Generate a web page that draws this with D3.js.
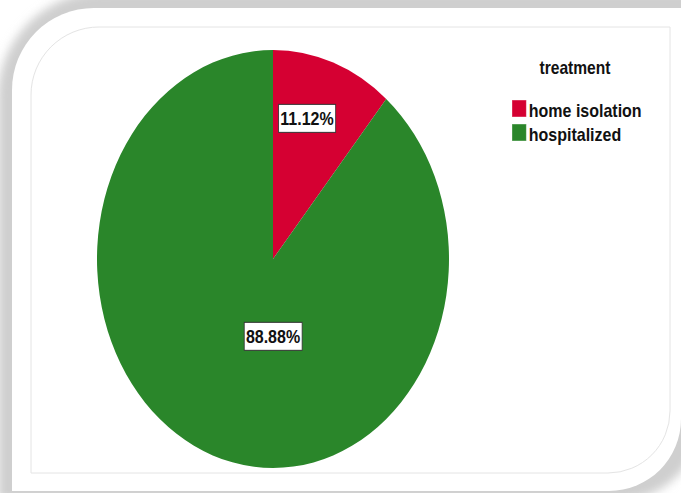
<!DOCTYPE html>
<html>
<head>
<meta charset="utf-8">
<script src="https://cdn.jsdelivr.net/npm/d3@7"></script>
<style>
  body { margin: 0; background: #fff; }
  svg { display: block; font-family: "Liberation Sans", Arial, sans-serif; }
</style>
</head>
<body>
<div id="chart"></div>
<script>
const categories = ["home isolation", "hospitalized"];
const percents = [11.12, 88.88];
const colors = ["#d50032", "#2a862a"];
const legendTitle = "treatment";

const width = 681, height = 493;
const cx = 273, cy = 259, rx = 176, ry = 209;
const squeeze = rx / ry;

const svg = d3.select("#chart")
  .append("svg")
    .attr("width", width)
    .attr("height", height);

const defs = svg.append("defs");
defs.append("filter")
    .attr("id", "blur")
    .attr("x", "-20%").attr("y", "-20%")
    .attr("width", "140%").attr("height", "140%")
  .append("feGaussianBlur")
    .attr("stdDeviation", 5);

// card with two rounded corners (top-left, bottom-right)
function card(x0, y0, x1, y1, r1, r2) {
  const p = d3.path();
  p.moveTo(x0 + r1, y0);
  p.lineTo(x1, y0);
  p.lineTo(x1, y1 - r2);
  p.arcTo(x1, y1, x1 - r2, y1, r2);
  p.lineTo(x0, y1);
  p.lineTo(x0, y0 + r1);
  p.arcTo(x0, y0, x0 + r1, y0, r1);
  p.closePath();
  return p.toString();
}

svg.append("path")
    .attr("d", card(-2, -8, 700, 500, 105, 80))
    .attr("fill", "#cfcfcf")
    .attr("filter", "url(#blur)");

svg.append("path")
    .attr("d", card(12, 8, 681, 491, 82, 72))
    .attr("fill", "#fff");

svg.append("path")
    .attr("d", card(31, 27, 670, 473, 68, 62))
    .attr("fill", "none")
    .attr("stroke", "#e4e4e4")
    .attr("stroke-width", 1);

// pie (drawn as a circle, then squeezed horizontally)
const pie = d3.pie().sort(null).value(d => d);
const arcs = pie(percents);
const arc = d3.arc().innerRadius(0).outerRadius(ry);

svg.append("g")
    .attr("transform", `translate(${cx},${cy}) scale(${squeeze},1)`)
  .selectAll("path")
  .data(arcs)
  .join("path")
    .attr("d", arc)
    .attr("fill", (d, i) => colors[i]);

// value labels
const labelSpots = [[16, 0.70], [180, 0.37]];
const labels = svg.append("g")
  .selectAll("g")
  .data(arcs)
  .join("g")
    .attr("transform", (d, i) => {
      const a = labelSpots[i][0] * Math.PI / 180, r = labelSpots[i][1];
      return `translate(${cx + rx * r * Math.sin(a)},${cy - ry * r * Math.cos(a)}) scale(${squeeze},1)`;
    });

labels.append("text")
    .attr("text-anchor", "middle")
    .attr("dy", "0.36em")
    .attr("font-size", 19)
    .attr("font-weight", "bold")
    .attr("fill", "#111")
    .text((d, i) => percents[i].toFixed(2) + "%");

labels.each(function() {
  const g = d3.select(this);
  const b = g.select("text").node().getBBox();
  g.insert("rect", "text")
      .attr("x", b.x - 2)
      .attr("y", -14)
      .attr("width", b.width + 4)
      .attr("height", 28)
      .attr("fill", "#fff")
      .attr("stroke", "#333")
      .attr("stroke-width", 1);
});

// legend
const legend = svg.append("g")
    .attr("transform", `translate(512,0) scale(${squeeze},1)`);

legend.append("text")
    .attr("x", 63 / squeeze)
    .attr("y", 74)
    .attr("text-anchor", "middle")
    .attr("font-size", 18.5)
    .attr("font-weight", "bold")
    .attr("fill", "#111")
    .text(legendTitle);

const items = legend.selectAll("g.item")
  .data(categories)
  .join("g")
    .attr("class", "item")
    .attr("transform", (d, i) => `translate(0,${100 + i * 24})`);

items.append("rect")
    .attr("width", 17)
    .attr("height", 17)
    .attr("fill", (d, i) => colors[i])
    .attr("stroke", "#ffffff")
    .attr("stroke-opacity", 0.4);

items.append("text")
    .attr("x", 20)
    .attr("y", 16.5)
    .attr("font-size", 19)
    .attr("font-weight", "bold")
    .attr("fill", "#111")
    .text(d => d);
</script>
</body>
</html>
